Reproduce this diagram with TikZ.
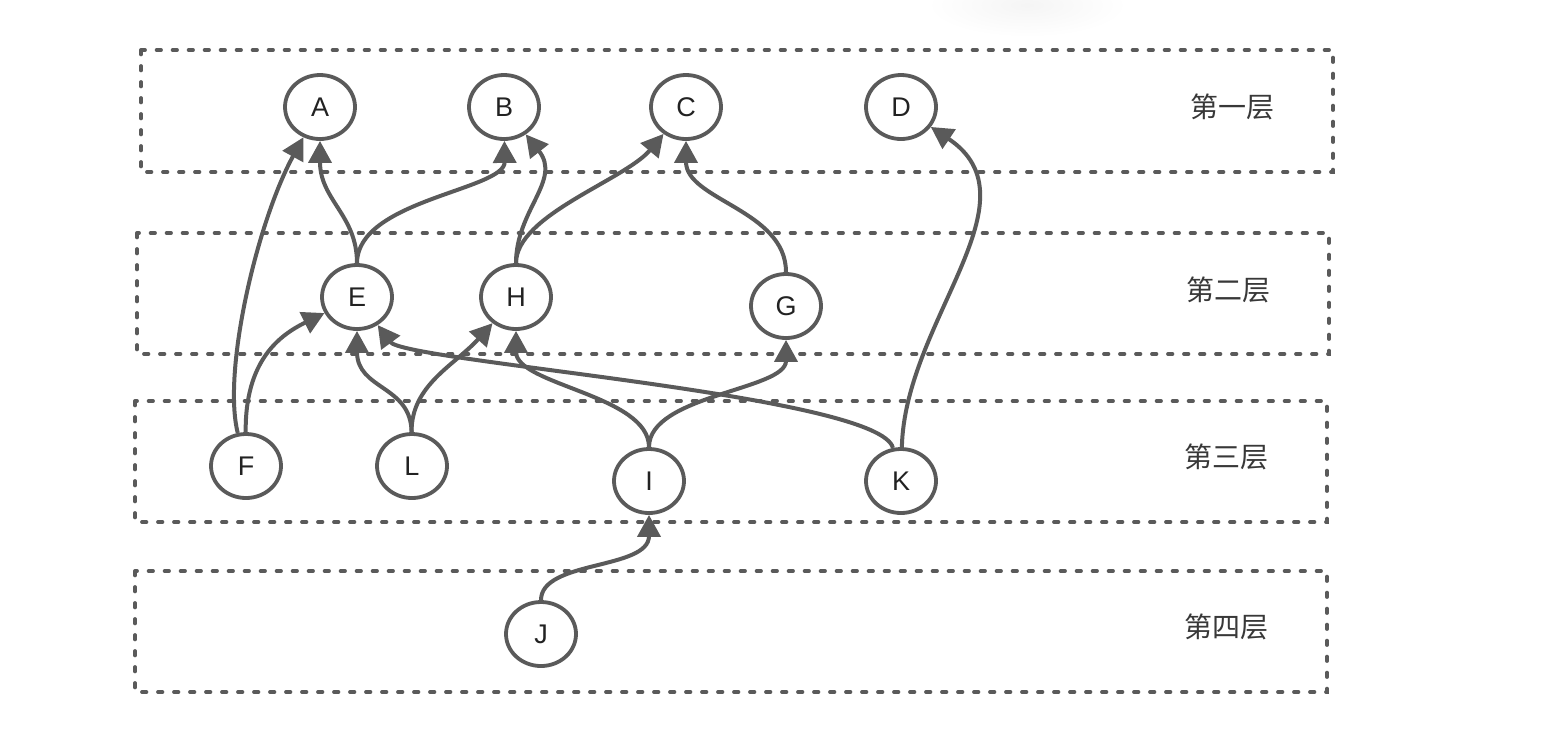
\documentclass[tikz,border=0pt]{standalone}
\usepackage{fontspec}
\setmainfont{Liberation Sans}
\newfontfamily\cjk{Noto Sans CJK SC}
\usetikzlibrary{arrows.meta,shapes.geometric}
\definecolor{edgegray}{HTML}{5A5A5A}
\definecolor{inkgray}{HTML}{222222}

\begin{document}
\begin{tikzpicture}[
    x=0.5pt, y=-0.5pt,
    >={Triangle[length=11pt,width=11.5pt]},
    state/.style={ellipse, draw=edgegray, fill=white, line width=1.9pt,
      minimum width=35pt, minimum height=32pt, inner sep=0pt,
      text=inkgray, font=\fontsize{13.5}{15}\selectfont},
    link/.style={->, draw=edgegray, line width=2pt},
    layer/.style={draw=edgegray, line width=1.9pt,
      dash pattern=on 2.2pt off 5.8pt, line cap=round},
    tag/.style={text=inkgray!90, font=\cjk\fontsize{14}{16}\selectfont}
  ]

  \useasboundingbox (0,0) rectangle (1546,730);

  % faint shadow at the top edge
  \shade[inner color=black!4, outer color=white] (1027,5) ellipse [x radius=50pt, y radius=16pt];

  % the four layers
  \foreach \x/\y/\xx/\yy in {141/50/1333/172, 137/233/1329/354,
    135/401/1327/522, 135/571/1327/692}
  \draw[layer] (\x,\y) rectangle (\xx,\yy);

  \node[tag] (lay1) at (1232,107) {第一层};
  \node[tag] (lay2) at (1228,290) {第二层};
  \node[tag] (lay3) at (1226,457) {第三层};
  \node[tag] (lay4) at (1226,627) {第四层};

  % modules
  \foreach \n/\x/\y in {A/320/107, B/504/107, C/686/107, D/901/107,
    E/357/297, H/516/297, G/786/306,
    F/246/466, L/412/466, I/649/481, K/901/481, J/541/634}
  \node[state] (\n) at (\x,\y) {\n};

  % dependencies
  \draw[link] (F) .. controls (222,370) and (258,220) .. (A);
  \draw[link] (F) .. controls (245,360) and (280,335) .. (E);
  \draw[link] (E) .. controls (357,215) and (320,200) .. (A);
  \draw[link] (E) .. controls (357,200) and (505,190) .. (B);
  \draw[link] (L) .. controls (411,385) and (357,390) .. (E);
  \draw[link] (L) .. controls (411,385) and (455,365) .. (H);
  \draw[link] (H) .. controls (516,210) and (562,180) .. (B);
  \draw[link] (H) .. controls (516,215) and (625,180) .. (C);
  \draw[link] (G) .. controls (786,210) and (686,200) .. (C);
  \draw[link] (I) .. controls (649,395) and (516,385) .. (H);
  \draw[link] (I) .. controls (649,395) and (786,390) .. (G);
  \draw[link] (J) .. controls (541,560) and (649,570) .. (I);
  \draw[link] (K) .. controls (880,395) and (405,362) .. (E);
  \draw[link] (K) .. controls (905,320) and (1040,200) .. (D);

\end{tikzpicture}
\end{document}
